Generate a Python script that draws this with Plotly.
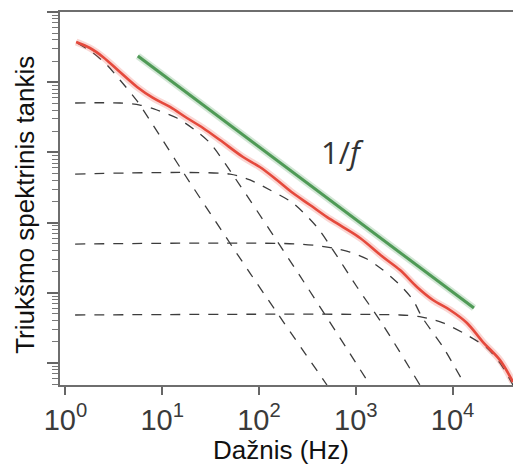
import plotly.graph_objects as go

# sum of the components (red)
red_f = [1.29, 1.79, 2.44, 3.66, 5.50, 8.04, 12.05, 18.0, 26.4, 39.5, 68.4, 102, 153,
         224, 337, 505, 738, 1107, 1910, 2864, 4285, 6266, 9397, 14090, 20610, 30900, 42070]
red_s = [37400, 30700, 22900, 13960, 8550, 5960, 4440, 3090, 2230, 1500, 859, 619, 405,
         264, 178, 120, 86.5, 60.4, 32.4, 21.1, 12.1, 7.89, 5.69, 3.72, 1.99, 1.10, 0.536]

# 1/f reference line (green)
green_f = [5.6, 16630]
green_s = [23600, 6.07]

# Lorentzian components (dashed)
comp1_f = [1.32, 1.93, 2.69, 3.66, 5.50, 9.49, 17.2, 80.7, 504]
comp1_s = [36200, 26100, 17600, 10740, 5400, 1714, 477, 19.1, 0.486]
comp2_f = [1.26, 3.66, 5.89, 8.83, 14.2, 21.8, 31.2, 53.8, 265, 1403]
comp2_s = [5060, 5060, 4730, 4020, 3090, 2080, 1360, 477, 17.4, 0.486]
comp3_f = [1.26, 50.1, 80.7, 130, 224, 397, 555, 1030, 1910, 4600]
comp3_s = [492, 492, 405, 291, 190, 86.5, 44.9, 12.1, 3.48, 0.486]
comp4_f = [1.26, 265, 581, 871, 1306, 1910, 2864, 3899, 4831, 7962, 13430]
comp4_s = [49.5, 49.5, 43.5, 38.1, 30.3, 21.1, 12.9, 7.89, 4.52, 1.69, 0.486]
comp5_f = [1.26, 2864, 4831, 7962, 14090, 22650, 30900, 42070]
comp5_s = [4.83, 4.83, 4.52, 3.72, 2.51, 1.64, 1.0, 0.486]

x_ticks = [1, 10, 100, 1000, 10000]
x_labels = ["10<sup>0</sup>", "10<sup>1</sup>", "10<sup>2</sup>", "10<sup>3</sup>", "10<sup>4</sup>"]

fig = go.Figure()

components = [(comp1_f, comp1_s), (comp2_f, comp2_s), (comp3_f, comp3_s),
              (comp4_f, comp4_s), (comp5_f, comp5_s)]
for f, s in components:
    fig.add_trace(go.Scatter(
        x=f, y=s, mode="lines",
        line=dict(color="#3c3c3c", width=1.3, dash="10px,9px", shape="spline", smoothing=0.8),
        hoverinfo="skip"
    ))

# green 1/f line with a soft halo
fig.add_trace(go.Scatter(x=green_f, y=green_s, mode="lines",
                         line=dict(color="rgba(80,160,90,0.25)", width=7), hoverinfo="skip"))
fig.add_trace(go.Scatter(x=green_f, y=green_s, mode="lines",
                         line=dict(color="#4f9a56", width=3)))

# red sum with a soft halo
fig.add_trace(go.Scatter(x=red_f, y=red_s, mode="lines",
                         line=dict(color="rgba(235,90,80,0.25)", width=7, shape="spline"),
                         hoverinfo="skip"))
fig.add_trace(go.Scatter(x=red_f, y=red_s, mode="lines",
                         line=dict(color="#e5493c", width=2.6, shape="spline")))

fig.add_annotation(x=2.86, y=3.0, xref="x", yref="y", text="1/<i>f</i>", showarrow=False,
                   font=dict(family="Open Sans", size=31, color="#333333"))

# axis titles (placed by hand, the html body adds an 8px offset)
fig.add_annotation(x=0.479, y=-0.174, xref="paper", yref="paper", text="Dažnis (Hz)",
                   xanchor="center", yanchor="middle",
                   showarrow=False, font=dict(size=26, color="#111111"))
fig.add_annotation(x=-0.076, y=0.483, xref="paper", yref="paper",
                   text="Triukšmo spektrinis tankis", textangle=-90,
                   xanchor="center", yanchor="middle",
                   showarrow=False, font=dict(size=26, color="#111111"))

fig.update_layout(
    width=513,
    height=461,
    margin=dict(l=52, r=0, t=4, b=84),
    paper_bgcolor="white",
    plot_bgcolor="white",
    showlegend=False,
    font=dict(family="Liberation Sans, Arial, sans-serif", size=26, color="#111111"),
    xaxis=dict(
        type="log",
        range=[-0.056, 4.707],
        tickvals=x_ticks,
        ticktext=x_labels,
        ticks="outside",
        ticklen=8,
        tickwidth=1.5,
        tickcolor="#666666",
        tickfont=dict(size=29, color="#3a3a3a"),
        showgrid=False,
        zeroline=False,
        showline=True,
        linecolor="#6e6e6e",
        linewidth=1.6,
        mirror=True,
        automargin=False,
    ),
    yaxis=dict(
        type="log",
        range=[-0.313, 5.0],
        dtick=1,
        ticks="outside",
        ticklen=11,
        tickwidth=1.5,
        tickcolor="#666666",
        showticklabels=False,
        minor=dict(ticks="outside", ticklen=6, tickwidth=1, tickcolor="#777777", dtick="D1"),
        showgrid=False,
        zeroline=False,
        showline=True,
        linecolor="#6e6e6e",
        linewidth=1.6,
        automargin=False,
    ),
)

fig.write_html("out.html")
